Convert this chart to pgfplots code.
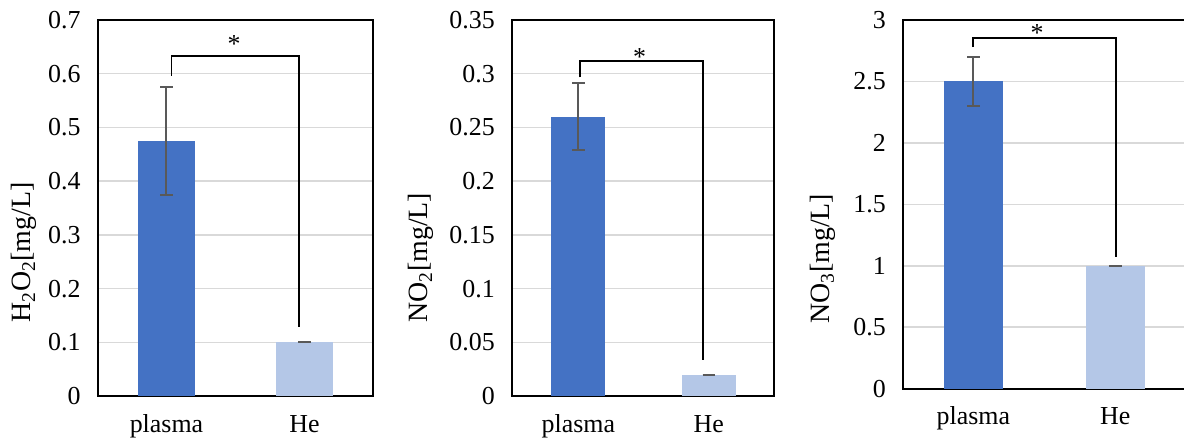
\documentclass[border=0pt]{standalone}
\usepackage{fontspec}
\setmainfont{Liberation Serif}
\usepackage{pgfplots}
\pgfplotsset{compat=1.18}
\definecolor{barA}{HTML}{4472C4}
\definecolor{barB}{HTML}{B4C7E7}
\definecolor{errc}{HTML}{595959}
\definecolor{gridc}{HTML}{D9D9D9}

\pgfplotsset{
  panel/.style={
    scale only axis,
    anchor=south west,
    xtick={0,1}, xticklabels={plasma,He},
    ymin=0,
    ymajorgrids,
    major grid style={draw=gridc, line width=1.5bp},
    every outer x axis line/.append style={line width=2.2bp},
    every outer y axis line/.append style={line width=2.2bp},
    axis line style={draw=black, line width=2.2bp},
    major tick length=0pt,
    scaled y ticks=false,
    /pgf/number format/assume math mode=true,
    tick label style={font=\fontsize{26}{30}\selectfont},
    yticklabel style={/pgf/number format/fixed, /pgf/number format/precision=2, xshift=-14bp},
    xticklabel style={text height=18bp, text depth=6bp, yshift=-14.5bp},
    every axis y label/.style={rotate=90, anchor=center, font=\fontsize{28}{32}\selectfont},
  },
  barplot/.style={ybar, bar shift=0pt, bar width=0.415, draw=none, fill=#1,
    error bars/.cd, y dir=both, y explicit,
    error bar style={solid, draw=errc, line width=2bp},
    error mark options={solid, draw=errc, rotate=90, mark size=6.3bp, line width=2bp}},
  bracket/.style={draw=black, line width=1.8bp, sharp plot, mark=none},
}

\begin{document}
\begin{tikzpicture}
\path[use as bounding box] (0,0) rectangle (1184bp,442bp);

% H2O2
\begin{axis}[panel, at={(98bp,46bp)}, width=275bp, height=376bp,
  xmin=-0.496, xmax=1.496, ymax=0.7, ytick={0,0.1,...,0.7},
  ylabel={H\textsubscript{2}O\textsubscript{2}[mg/L]},
  ylabel style={at={(axis description cs:-0.269,0.382)}}]
  \addplot[barplot=barA] coordinates {(0,0.475) +- (0,0.1)};
  \addplot[barplot=barB] coordinates {(1,0.1) +- (0,0)};
  \addplot[bracket] coordinates {(0.037,0.596) (0.037,0.633) (0.962,0.633) (0.962,0.128)};
  \node[font=\fontsize{26}{30}\selectfont] at (axis cs:0.49,0.655) {*};
\end{axis}

% NO2
\begin{axis}[panel, at={(512.3bp,46bp)}, width=262bp, height=376bp,
  xmin=-0.506, xmax=1.502, ymax=0.35, ytick={0,0.05,...,0.35},
  ylabel={NO\textsubscript{2}[mg/L]},
  ylabel style={at={(axis description cs:-0.348,0.368)}}]
  \addplot[barplot=barA] coordinates {(0,0.26) +- (0,0.031)};
  \addplot[barplot=barB] coordinates {(1,0.02) +- (0,0)};
  \addplot[bracket] coordinates {(0.013,0.2967) (0.013,0.312) (0.953,0.312) (0.953,0.0335)};
  \node[font=\fontsize{26}{30}\selectfont] at (axis cs:0.47,0.316) {*};
\end{axis}

% NO3
\begin{axis}[panel, at={(903.3bp,53.3bp)}, width=283bp, height=368.7bp,
  xmin=-0.493, xmax=1.5, ymax=3, ytick={0,0.5,...,3},
  ylabel={NO\textsubscript{3}[mg/L]},
  ylabel style={at={(axis description cs:-0.284,0.353)}}]
  \addplot[barplot=barA] coordinates {(0,2.5) +- (0,0.2)};
  \addplot[barplot=barB] coordinates {(1,1.0) +- (0,0)};
  \addplot[bracket] coordinates {(0.0,2.78) (0.0,2.856) (1.004,2.856) (1.004,1.074)};
  \node[font=\fontsize{26}{30}\selectfont] at (axis cs:0.45,2.89) {*};
\end{axis}
\end{tikzpicture}
\end{document}
